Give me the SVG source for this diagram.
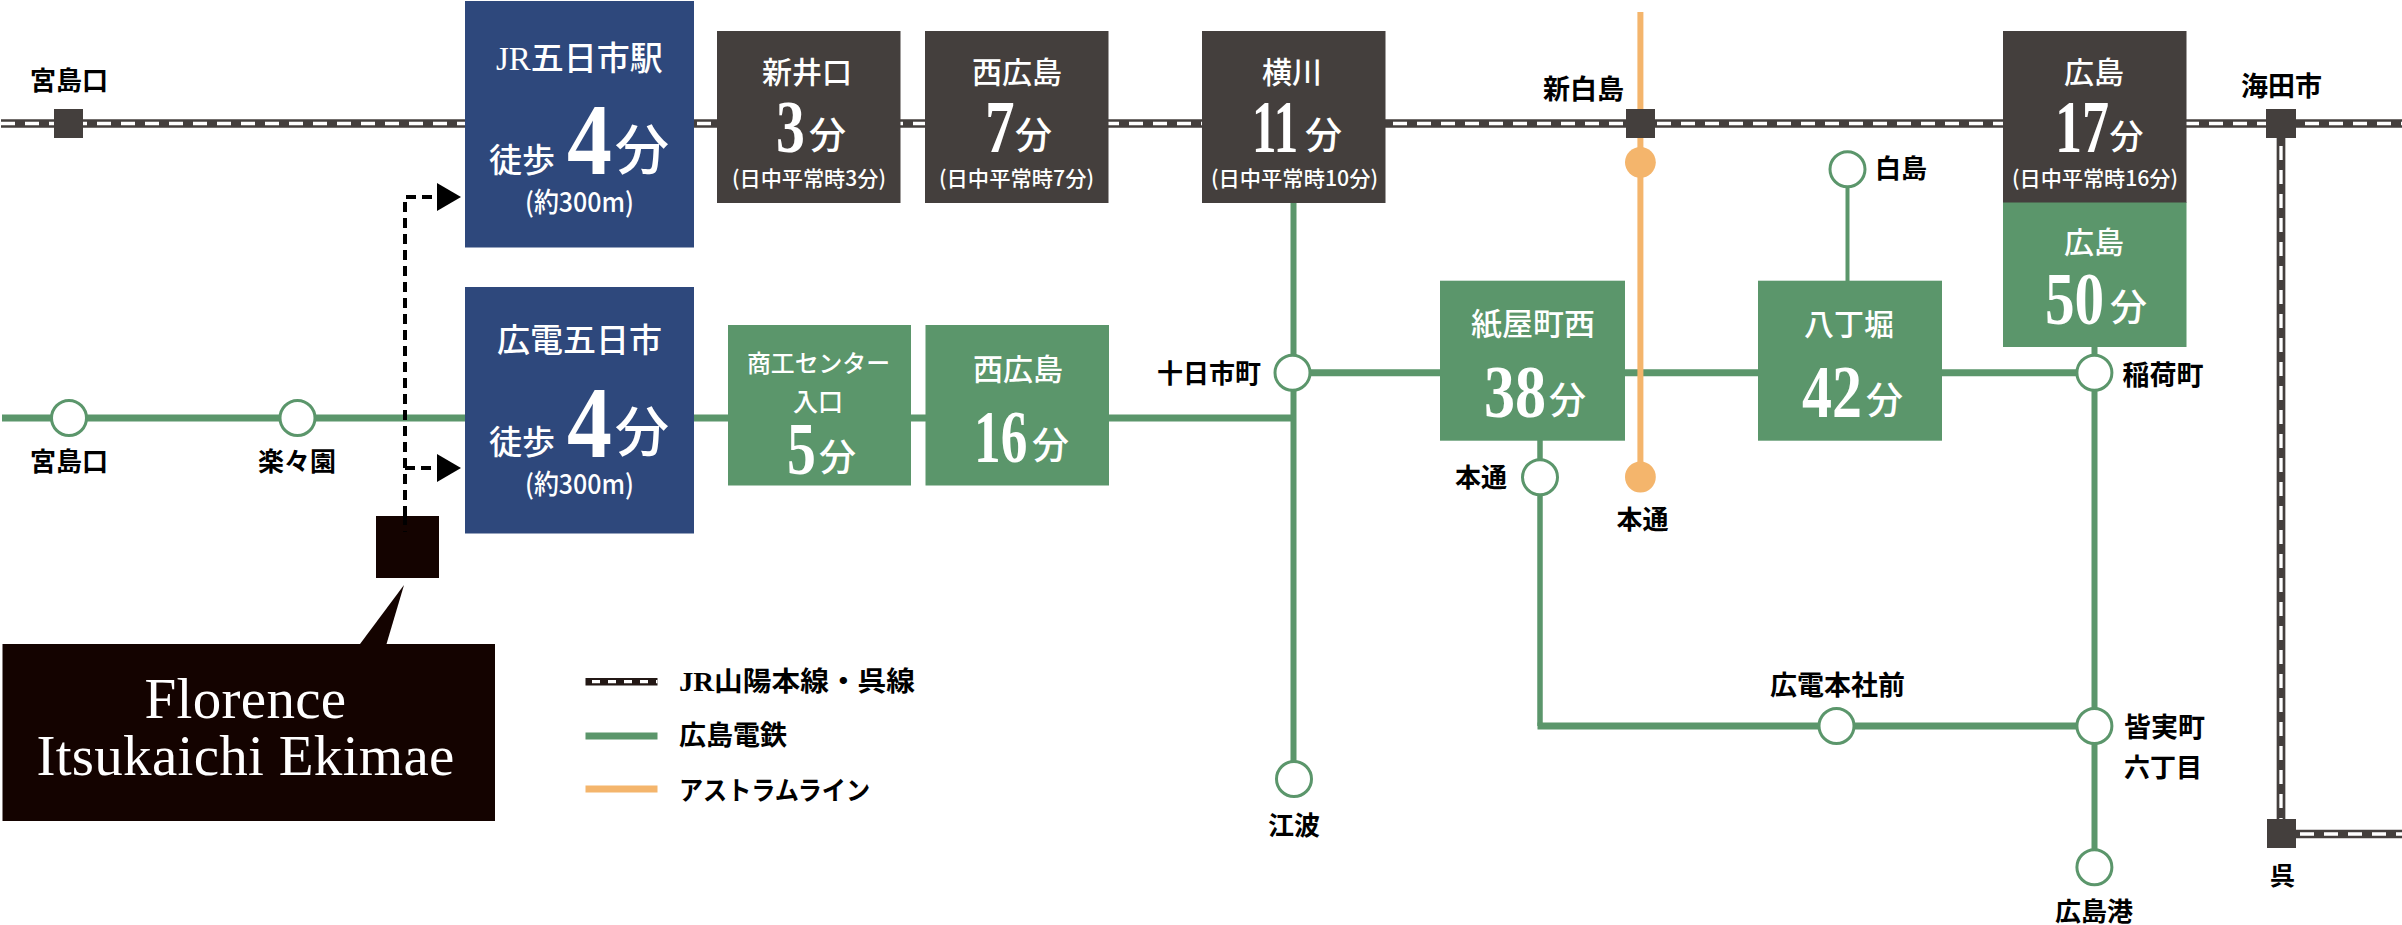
<svg xmlns="http://www.w3.org/2000/svg" width="2402" height="925" viewBox="0 0 2402 925">
<style>
text{font-family:"Noto Sans CJK JP","Liberation Sans",sans-serif}
.bk{fill:#000;font-size:26px;font-weight:700;text-anchor:start}
.w{fill:#fff;font-weight:500}
.nm{fill:#fff;font-size:30px;font-weight:500}
.fn{fill:#fff;font-size:37px;font-weight:500}
.sb{fill:#fff;font-size:21px;font-weight:500}
.dg{fill:#fff;font-family:"Liberation Serif",serif;font-weight:700}
.d2{font-size:74px}
.ser{font-family:"Liberation Serif",serif}
.en{fill:#fff;font-family:"Liberation Serif",serif;font-size:57px;letter-spacing:.3px;text-anchor:middle}
.dark{fill:#443f3d}.grn{fill:#5b966b}.blue{fill:#2e487c}
.jr{stroke:#443f3d;stroke-width:8.7;fill:none}
.jrd{stroke:#fff;stroke-width:3.3;stroke-dasharray:14 10;fill:none}
.gl{stroke:#5b966b;stroke-width:7;fill:none}
.gv{stroke:#5b966b;stroke-width:6;fill:none}
.ol{stroke:#f4b56c;stroke-width:6;fill:none}
.st{fill:#fff;stroke:#5b966b;stroke-width:3}
.dash{stroke:#000;stroke-width:4;stroke-dasharray:10 6;fill:none}
</style>
<defs>
<marker id="arr" markerUnits="userSpaceOnUse" markerWidth="24" markerHeight="28" refX="0" refY="14" orient="auto"><path d="M0 0L24 14L0 28Z" fill="#000"/></marker>
</defs>
<rect width="2402" height="925" fill="#fff"/>
<g id="connectors">
<line class="jr" x1="1" y1="123.5" x2="2402" y2="123.5"/>
<line class="jrd" x1="1" y1="123.5" x2="2402" y2="123.5"/>
<line class="jr" x1="2281" y1="138" x2="2281" y2="820"/>
<line class="jrd" x1="2281" y1="146" x2="2281" y2="820"/>
<line class="jr" x1="2296" y1="834" x2="2402" y2="834"/>
<line class="jrd" x1="2300" y1="834" x2="2402" y2="834"/>
<line class="gl" x1="2" y1="418" x2="1293" y2="418"/>
<line class="gv" x1="1293.5" y1="200" x2="1293.5" y2="762"/>
<line class="gl" x1="1293" y1="372.7" x2="2094" y2="372.7"/>
<line class="gv" x1="1847.5" y1="187" x2="1847.5" y2="282" style="stroke-width:4"/>
<line class="gv" x1="2094.5" y1="345" x2="2094.5" y2="850"/>
<path class="gv" d="M1540 440V726" style="stroke-width:5.5"/>
<line class="gl" x1="1537.5" y1="726" x2="2094" y2="726"/>
<line class="ol" x1="1640.4" y1="12" x2="1640.4" y2="477"/>
<path class="dash" d="M405 532V197H437" marker-end="url(#arr)"/>
<path class="dash" d="M405 468H437" marker-end="url(#arr)"/>
<path d="M404 585L360 644H386.5Z" fill="#140300"/>
</g>
<g id="st-miyajimaguchi-jr"><rect class="dark" x="54" y="109" width="29" height="29"/><text class="bk" x="30" y="90">宮島口</text></g>
<g id="st-shinhakushima"><rect class="dark" x="1626" y="109" width="29" height="29"/><text class="bk" x="1543" y="99" style="font-size:27px">新白島</text></g>
<g id="st-kaitaichi"><rect class="dark" x="2266" y="109" width="30" height="29"/><text class="bk" x="2241" y="96" style="font-size:27px">海田市</text></g>
<g id="st-kure"><rect class="dark" x="2267" y="819" width="29" height="29"/><text class="bk" x="2270" y="885" style="font-size:25px">呉</text></g>
<g id="st-miyajimaguchi"><circle class="st" cx="69" cy="418" r="17.5"/><text class="bk" x="30" y="471">宮島口</text></g>
<g id="st-rakurakuen"><circle class="st" cx="297.5" cy="418" r="17.5"/><text class="bk" x="258" y="471">楽々園</text></g>
<g id="st-tokaichimachi"><circle class="st" cx="1292.5" cy="372.7" r="17.5"/><text class="bk" x="1157" y="383">十日市町</text></g>
<g id="st-enami"><circle class="st" cx="1294" cy="779" r="17.5"/><text class="bk" x="1268" y="835">江波</text></g>
<g id="st-hondori"><circle class="st" cx="1540" cy="477.3" r="17.5"/><text class="bk" x="1455" y="487">本通</text></g>
<g id="st-hakushima"><circle class="st" cx="1847.5" cy="169.3" r="17.5"/><text class="bk" x="1875" y="178">白島</text></g>
<g id="st-inarimachi"><circle class="st" cx="2094.4" cy="372.7" r="17.5"/><text class="bk" x="2122.5" y="385" style="font-size:27px">稲荷町</text></g>
<g id="st-hiroden-honsha"><circle class="st" cx="1836.5" cy="726" r="17.5"/><text class="bk" x="1770" y="695" style="font-size:27px">広電本社前</text></g>
<g id="st-minamimachi"><circle class="st" cx="2094.4" cy="726" r="17.5"/><text class="bk" x="2124" y="737" style="font-size:27px">皆実町</text><text class="bk" x="2124" y="777">六丁目</text></g>
<g id="st-hiroshimako"><circle class="st" cx="2094.4" cy="867.3" r="17.5"/><text class="bk" x="2055" y="921">広島港</text></g>
<g id="st-astram-shinhakushima"><circle cx="1640.4" cy="162.3" r="15.4" fill="#f4b56c"/></g>
<g id="st-astram-hondori"><circle cx="1640.4" cy="477" r="15.4" fill="#f4b56c"/><text class="bk" x="1616.5" y="529">本通</text></g>

<g id="n-jr-itsukaichi"><rect class="blue" x="465" y="1" width="229" height="246.5"/>
<text class="w" x="496" y="70" style="font-size:33px"><tspan class="ser">JR</tspan>五日市駅</text>
<text class="w" x="489" y="172" style="font-size:33px">徒歩</text>
<text class="dg" transform="translate(567 174) scale(.88 1)" style="font-size:102px">4</text>
<text class="w" x="615" y="170" style="font-size:54px">分</text>
<text class="w" x="525" y="212" style="font-size:27px" textLength="109" lengthAdjust="spacingAndGlyphs">(約300m)</text></g>
<g id="n-hiroden-itsukaichi"><rect class="blue" x="465" y="287" width="229" height="246.5"/>
<text class="w" x="497" y="352" style="font-size:33px">広電五日市</text>
<text class="w" x="489" y="454" style="font-size:33px">徒歩</text>
<text class="dg" transform="translate(567 456.5) scale(.88 1)" style="font-size:102px">4</text>
<text class="w" x="615" y="452" style="font-size:54px">分</text>
<text class="w" x="525" y="494" style="font-size:27px" textLength="109" lengthAdjust="spacingAndGlyphs">(約300m)</text></g>

<g id="n-shinikuchi"><rect class="dark" x="717" y="31" width="183.5" height="172"/>
<text class="nm" x="762" y="83">新井口</text>
<text class="dg d2" transform="translate(776 152) scale(.78 1)">3</text>
<text class="fn" x="809" y="149">分</text>
<text class="sb" x="732" y="186" textLength="154" lengthAdjust="spacingAndGlyphs">(日中平常時3分)</text></g>
<g id="n-nishihiroshima-jr"><rect class="dark" x="925" y="31" width="183.5" height="172"/>
<text class="nm" x="972" y="83">西広島</text>
<text class="dg d2" transform="translate(985 152) scale(.8 1)">7</text>
<text class="fn" x="1015" y="149">分</text>
<text class="sb" x="939" y="186" textLength="155" lengthAdjust="spacingAndGlyphs">(日中平常時7分)</text></g>
<g id="n-yokogawa"><rect class="dark" x="1202" y="31" width="183.5" height="172"/>
<text class="nm" x="1262" y="83">横川</text>
<text class="dg d2" transform="translate(1252 152) scale(.66 1)">11</text>
<text class="fn" x="1305" y="149">分</text>
<text class="sb" x="1211" y="186" textLength="167" lengthAdjust="spacingAndGlyphs">(日中平常時10分)</text></g>
<g id="n-hiroshima-jr"><rect class="dark" x="2003" y="31" width="183.5" height="172"/>
<text class="nm" x="2064" y="83">広島</text>
<text class="dg d2" transform="translate(2055 152) scale(.73 1)">17</text>
<text class="fn" x="2109.5" y="149" style="font-size:34px">分</text>
<text class="sb" x="2012" y="186" textLength="166" lengthAdjust="spacingAndGlyphs">(日中平常時16分)</text></g>

<g id="n-shoko"><rect class="grn" x="728" y="325" width="183" height="160.5"/>
<text class="w" x="747" y="372" style="font-size:24px" textLength="143" lengthAdjust="spacingAndGlyphs">商工センター</text>
<text class="w" x="793" y="411" style="font-size:25px">入口</text>
<text class="dg d2" transform="translate(787 474) scale(.78 1)">5</text>
<text class="fn" x="819" y="471">分</text></g>
<g id="n-nishihiroshima-hd"><rect class="grn" x="925.5" y="325" width="183.5" height="160.5"/>
<text class="nm" x="973" y="380">西広島</text>
<text class="dg d2" transform="translate(974 462) scale(.72 1)">16</text>
<text class="fn" x="1032" y="459">分</text></g>
<g id="n-kamiyacho"><rect class="grn" x="1440" y="280.7" width="185" height="160"/>
<text class="w" x="1471" y="335" style="font-size:31px">紙屋町西</text>
<text class="dg d2" transform="translate(1484 417) scale(.84 1)">38</text>
<text class="fn" x="1549" y="414">分</text></g>
<g id="n-hatchobori"><rect class="grn" x="1758" y="280.7" width="184" height="160"/>
<text class="w" x="1804" y="335" style="font-size:30px">八丁堀</text>
<text class="dg d2" transform="translate(1802 417) scale(.81 1)">42</text>
<text class="fn" x="1866" y="414">分</text></g>
<g id="n-hiroshima-hd"><rect class="grn" x="2003" y="202.5" width="183.5" height="144.5"/>
<text class="nm" x="2064" y="253">広島</text>
<text class="dg d2" transform="translate(2045 324) scale(.8 1)">50</text>
<text class="fn" x="2110" y="321">分</text></g>

<g id="n-florence"><rect x="376" y="516" width="63" height="62" fill="#140300"/><rect x="2.5" y="644" width="492.5" height="177" fill="#140300"/>
<text class="en" x="245.5" y="717.5">Florence</text><text class="en" x="245.5" y="775">Itsukaichi Ekimae</text></g>
<path class="dash" d="M405 515V532"/>

<g id="legend">
<line x1="585.5" y1="681.7" x2="657.5" y2="681.7" stroke="#231815" stroke-width="7.5"/>
<line x1="592" y1="681.7" x2="657.5" y2="681.7" stroke="#fff" stroke-width="3.3" stroke-dasharray="8 8"/>
<text class="bk" x="679" y="691" style="font-size:27px" textLength="236" lengthAdjust="spacingAndGlyphs"><tspan class="ser">JR</tspan>山陽本線・呉線</text>
<line class="gl" x1="585.5" y1="736" x2="657.5" y2="736"/>
<text class="bk" x="679" y="745" style="font-size:27px">広島電鉄</text>
<line class="ol" x1="585.5" y1="789" x2="657.5" y2="789" style="stroke-width:7"/>
<text class="bk" x="679" y="800" style="font-size:26px" textLength="191" lengthAdjust="spacingAndGlyphs">アストラムライン</text>
</g>
</svg>
